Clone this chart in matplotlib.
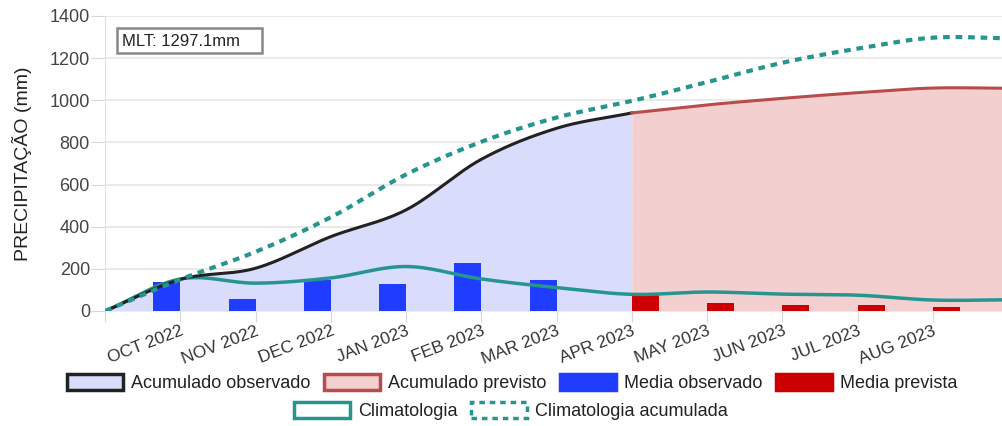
import numpy as np
import matplotlib.pyplot as plt
from matplotlib.patches import Patch, Rectangle

# data
tick_labels = ['', 'OCT 2022', 'NOV 2022', 'DEC 2022', 'JAN 2023', 'FEB 2023',
               'MAR 2023', 'APR 2023', 'MAY 2023', 'JUN 2023', 'JUL 2023', 'AUG 2023']

obs_x = [0, 1, 2, 3, 4, 5, 6, 7]
acum_observado = [0, 150, 203, 353, 480, 720, 867, 940]

prev_x = [7, 8, 9, 10, 11, 12]
acum_previsto = [940, 978, 1009, 1036, 1058, 1057]

clim_x = [0, 1, 2, 3, 4, 5, 6, 7, 8, 9, 10, 11, 12]
climatologia = [0, 152, 132, 157, 211, 152, 111, 79, 90, 80, 75, 52, 53]
clim_acumulada = [0, 150, 281, 445, 648, 803, 918, 997, 1086, 1178, 1245, 1297, 1294]

bar_obs_x = [1, 2, 3, 4, 5, 6]
media_observado = [138, 57, 148, 127, 227, 149]
bar_prev_x = [7, 8, 9, 10, 11]
media_prevista = [75, 37, 29, 27, 18]

mlt = 1297.1


def smooth(x, y, n=30):
    # cubic hermite (catmull-rom tangents) just for drawing smooth curves
    x = np.asarray(x, float)
    y = np.asarray(y, float)
    m = np.gradient(y, x)
    xs, ys = [], []
    for i in range(len(x) - 1):
        t = np.linspace(0, 1, n, endpoint=False)
        h = x[i + 1] - x[i]
        h00 = 2 * t**3 - 3 * t**2 + 1
        h10 = t**3 - 2 * t**2 + t
        h01 = -2 * t**3 + 3 * t**2
        h11 = t**3 - t**2
        xs.append(x[i] + t * h)
        ys.append(h00 * y[i] + h10 * h * m[i] + h01 * y[i + 1] + h11 * h * m[i + 1])
    xs.append([x[-1]])
    ys.append([y[-1]])
    return np.concatenate(xs), np.concatenate(ys)


plt.rcParams['font.family'] = ['Liberation Sans', 'DejaVu Sans']

W, H = 1002, 426
fig = plt.figure(figsize=(W / 100, H / 100), dpi=100)
ax = fig.add_axes([0.105, 0.27, 0.895, 0.6925])

c_obs_fill = '#d9dcfa'
c_prev_fill = '#f3cfd0'
c_blue = '#1f3cff'
c_red = '#cc0000'
c_teal = '#26958f'
c_prev_line = '#b84b4b'

ox, oy = smooth(obs_x, acum_observado)
px, py = smooth(prev_x, acum_previsto)
cx, cy = smooth(clim_x, climatologia)
ax_, ay_ = smooth(clim_x, clim_acumulada)

ax.fill_between(ox, 0, oy, color=c_obs_fill, lw=0, zorder=1)
ax.fill_between(px, 0, py, color=c_prev_fill, lw=0, zorder=1)

ax.bar(bar_obs_x, media_observado, width=-0.36, align='edge', color=c_blue, zorder=2)
ax.bar(bar_prev_x, media_prevista, width=0.36, align='edge', color=c_red, zorder=2)

ax.plot(cx, cy, color=c_teal, lw=2.5, zorder=3)
ax.plot(ox, oy, color='#222222', lw=2.2, zorder=4)
ax.plot(px, py, color=c_prev_line, lw=2.2, zorder=4)
ax.plot(ax_, ay_, color=c_teal, lw=3, ls=(0, (1.6, 1.4)), zorder=4)

ax.set_xlim(0, 11.92)
ax.set_ylim(0, 1400)
ax.set_yticks(np.arange(0, 1401, 200))
ax.set_xticks(range(len(tick_labels)))
ax.set_xticklabels(tick_labels, rotation=21, ha='right', rotation_mode='anchor')
ax.grid(axis='y', color='#e6e6e6', lw=1.2, zorder=0)
ax.set_axisbelow(True)
for s in ['top', 'right', 'bottom']:
    ax.spines[s].set_visible(False)
ax.spines['left'].set_color('#e0e0e0')
ax.tick_params(axis='y', length=10, color='#d8d8d8', labelsize=13, labelcolor='#444444', pad=1)
ax.tick_params(axis='x', length=8, color='#d8d8d8', labelsize=12.5, labelcolor='#333333', pad=1)
ax.set_ylabel('PRECIPITAÇÃO (mm)', fontsize=14, color='#222222')
ax.yaxis.set_label_coords((33 - 106) / 896, 0.5)

# MLT box
fig.add_artist(Rectangle((117 / W, 1 - 53 / H), 145 / W, 25 / H, transform=fig.transFigure,
                         fc='white', ec='#888888', lw=1.8, zorder=6))
fig.text(122 / W, 1 - 41 / H, 'MLT: %.1fmm' % mlt, fontsize=12, va='center', ha='left',
         color='#222222', zorder=7)

h1 = [Patch(facecolor=c_obs_fill, edgecolor='#222222', lw=2.5, label='Acumulado observado'),
      Patch(facecolor=c_prev_fill, edgecolor=c_prev_line, lw=2.5, label='Acumulado previsto'),
      Patch(facecolor=c_blue, edgecolor=c_blue, lw=2.5, label='Media observado'),
      Patch(facecolor=c_red, edgecolor=c_red, lw=2.5, label='Media prevista')]
h2 = [Patch(facecolor='white', edgecolor=c_teal, lw=2.5, label='Climatologia'),
      Patch(facecolor='white', edgecolor=c_teal, lw=2.5, ls=(0, (1.6, 1.4)),
            label='Climatologia acumulada')]

leg_kw = dict(frameon=False, fontsize=13, handlelength=3.1, handleheight=1.0,
              handletextpad=0.45, columnspacing=0.75, borderpad=0)
leg1 = fig.legend(handles=h1, loc='center', bbox_to_anchor=(0.511, 1 - 383 / H), ncol=4, **leg_kw)
leg2 = fig.legend(handles=h2, loc='center', bbox_to_anchor=(0.51, 1 - 411 / H), ncol=2, **leg_kw)
for leg in (leg1, leg2):
    for t in leg.get_texts():
        t.set_color('#222222')

plt.savefig('out.png', dpi=100)
